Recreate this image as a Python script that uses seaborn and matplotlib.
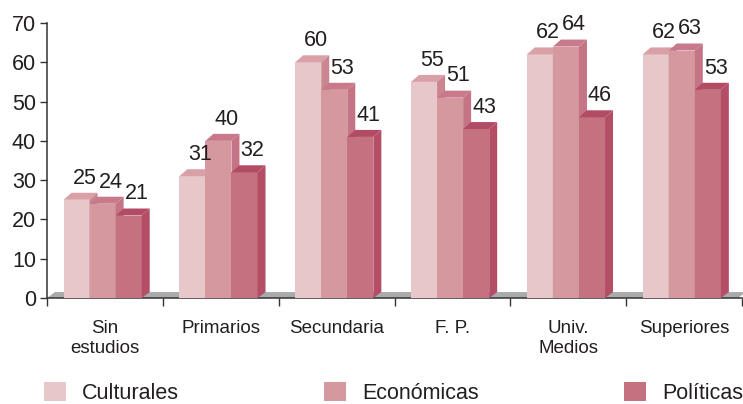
import matplotlib
matplotlib.use("Agg")
import matplotlib.pyplot as plt
from matplotlib.patches import Polygon, Patch
import seaborn as sns
import pandas as pd
import numpy as np

categories = ["Sin\nestudios", "Primarios", "Secundaria", "F. P.", "Univ.\nMedios", "Superiores"]
series = ["Culturales", "Económicas", "Políticas"]
culturales = [25, 31, 60, 55, 62, 62]
economicas = [24, 40, 53, 51, 64, 63]
politicas = [21, 32, 41, 43, 46, 53]

front_colors = ["#E8C7CB", "#D5989F", "#C47180"]
top_colors = ["#D9A0A7", "#C8798A", "#B24C64"]
side_colors = ["#C98590", "#C47484", "#B44E66"]
floor_color = "#A8AAAC"
text_color = "#231F20"

df = pd.DataFrame({
    "cat": categories * 3,
    "serie": sum([[s] * len(categories) for s in series], []),
    "val": culturales + economicas + politicas,
})

sns.set_theme(style="white")
plt.rcParams["font.family"] = ["Liberation Sans", "DejaVu Sans"]

fig = plt.figure(figsize=(7.43, 4.04), dpi=100)
ax = fig.add_axes([47 / 743, 1 - 298 / 404, 695 / 743, (298 - 23) / 404])

sns.barplot(data=df, x="cat", y="val", hue="serie", order=categories, hue_order=series,
            palette=front_colors, saturation=1, width=0.675, edgecolor="none",
            linewidth=0, legend=False, ax=ax)

ax.set_xlim(-0.5, 5.5)
ax.set_ylim(0, 70)

# depth of pseudo-3D in data units (8 px horizontal, 7 px vertical)
px_x = 695 / 6.0
px_y = 275 / 70.0
dx = 8 / px_x
dy = 7 / px_y

# floor slab
floor = Polygon([(-0.5, 0), (5.5 - dx * 0.5, 0), (5.5 + dx * 0.5, dy * 0.85), (-0.5 + dx, dy * 0.85)],
                closed=True, facecolor=floor_color, edgecolor="none", zorder=1.5, clip_on=False)
ax.add_patch(floor)

for i, cont in enumerate(ax.containers):
    for bar in cont:
        x0 = bar.get_x() - 0.02
        bar.set_x(x0)
        w = bar.get_width()
        h = bar.get_height()
        bar.set_zorder(3 + i)
        top = Polygon([(x0, h), (x0 + w, h), (x0 + w + dx, h + dy), (x0 + dx, h + dy)],
                      closed=True, facecolor=top_colors[i], edgecolor="none", zorder=3 + i)
        side = Polygon([(x0 + w, 0), (x0 + w + dx, dy * 0.85), (x0 + w + dx, h + dy), (x0 + w, h)],
                       closed=True, facecolor=side_colors[i], edgecolor="none", zorder=3 + i)
        ax.add_patch(top)
        ax.add_patch(side)
        ax.annotate(f"{int(round(h))}", xy=(x0 + w / 2 + dx, h + dy), xytext=(0, 3),
                    textcoords="offset points", ha="center", va="bottom",
                    fontsize=15.5, color=text_color, zorder=10)

# axes styling
for s in ["top", "right"]:
    ax.spines[s].set_visible(False)
for s in ["left", "bottom"]:
    ax.spines[s].set_color("#333333")
    ax.spines[s].set_linewidth(1.1)
    ax.spines[s].set_zorder(2)

ax.set_yticks(np.arange(0, 71, 10))
ax.tick_params(axis="y", direction="out", length=5, width=1.0, color="#333333",
               labelsize=15.5, labelcolor=text_color, pad=3, left=True)
ax.set_xticks(range(len(categories)))
ax.set_xticklabels(categories)
ax.set_xticks(np.arange(-0.5, 6.0, 1.0), minor=True)
ax.tick_params(axis="x", which="major", length=0, labelsize=13.5, labelcolor=text_color, pad=16)
ax.tick_params(axis="x", which="minor", direction="out", length=6, width=1.0, color="#333333", bottom=True)
ax.set_xlabel("")
ax.set_ylabel("")
ax.grid(False)

handles = [Patch(facecolor=c, edgecolor="none") for c in front_colors]
fig.legend(handles, series, loc="center", mode="expand", ncol=3,
           bbox_to_anchor=(44 / 743, 1 - 393 / 404 - 0.001, 699 / 743, 0.002),
           frameon=False, fontsize=15.5, handlelength=1.0, handleheight=0.95,
           handletextpad=0.75, borderpad=0, borderaxespad=0, labelcolor=text_color)

fig.savefig("out.png", dpi=100)
